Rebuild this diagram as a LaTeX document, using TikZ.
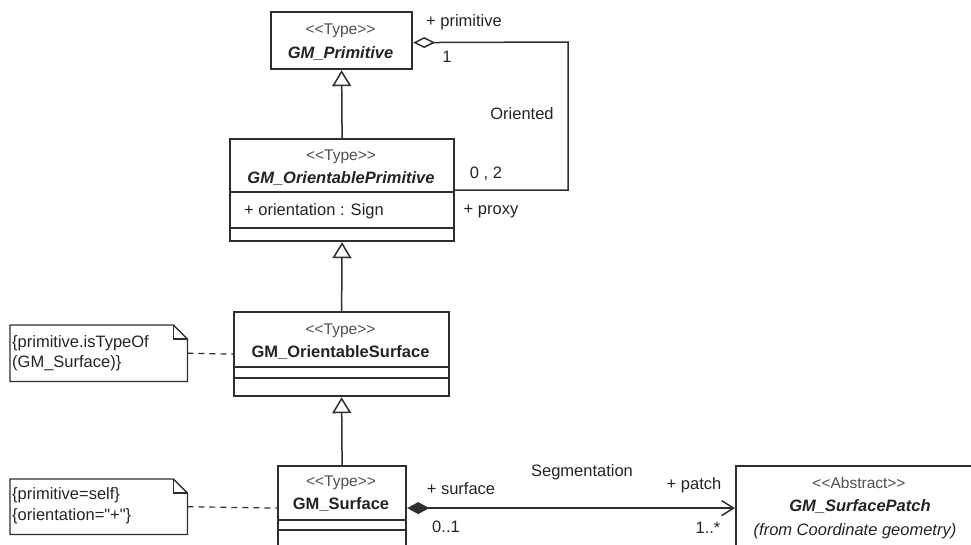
\documentclass[tikz,border=0pt]{standalone}
\usepackage{fontspec}
\setmainfont{Liberation Sans}[Ligatures=TeXOff]
\usetikzlibrary{arrows.meta}
\definecolor{ink}{HTML}{242424}
\definecolor{stroke}{HTML}{2E2E2E}

\begin{document}
\begin{tikzpicture}[x=1pt,y=-1pt,
  txt/.style={font=\fontsize{16.5}{19}\selectfont, text=ink, inner sep=0pt},
  stereo/.style={font=\fontsize{15.5}{18}\selectfont, text=ink!80, inner sep=0pt},
  cname/.style={font=\fontsize{16.5}{19}\selectfont\bfseries, text=ink, inner sep=0pt},
  aname/.style={font=\fontsize{16.5}{19}\selectfont\bfseries\itshape, text=ink, inner sep=0pt},
  classbox/.style={draw=stroke, line width=2.2pt, fill=white, rectangle, anchor=north west, inner sep=0pt},
  notebox/.style={rectangle, anchor=north west, inner sep=0pt},
  notepath/.style={draw=stroke, line width=1.3pt, line join=miter},
  divider/.style={draw=stroke, line width=1.4pt},
  conn/.style={draw=stroke, line width=1.5pt},
  gen/.style={conn, -{Triangle[open, length=16pt, width=19pt, line width=1.5pt]}},
  aggr/.style={conn, {Diamond[open, length=22pt, width=11pt, line width=1.5pt]}-},
  compo/.style={conn, {Diamond[length=22pt, width=12pt]}-{Straight Barb[length=12pt, width=15pt, line width=1.5pt]}},
  anchorline/.style={draw=stroke, line width=1.2pt, dash pattern=on 6pt off 5pt}
]
\useasboundingbox (0,0) rectangle (971,544);
\clip (0,0) rectangle (971,544);

% class boxes
\node[classbox, minimum width=141pt, minimum height=57pt] (prim) at (270,11) {};
\node[classbox, minimum width=224pt, minimum height=102pt] (oprim) at (229,138) {};
\node[classbox, minimum width=215pt, minimum height=84pt] (osurf) at (233,311) {};
\node[classbox, minimum width=128pt, minimum height=84pt] (surf) at (277,465) {};
\node[classbox, minimum width=248pt, minimum height=84pt] (patch) at (735,465) {};

% compartment dividers
\draw[divider] (229,192) -- (453,192);
\draw[divider] (229,228) -- (453,228);
\draw[divider] (233,367) -- (448,367);
\draw[divider] (233,378) -- (448,378);
\draw[divider] (277,520) -- (405,520);
\draw[divider] (277,530) -- (405,530);

% class texts
\node[stereo] (primst) at (340.5,31) {<<Type>>};
\node[aname] (primnm) at (340.5,54) {GM\_Primitive};
\node[stereo] (oprimst) at (341,157) {<<Type>>};
\node[aname] (oprimnm) at (341,179) {GM\_OrientablePrimitive};
\node[txt, anchor=west] (oprimat) at (244,211) {+ orientation : Sign};
\node[stereo] (osurfst) at (340.5,331) {<<Type>>};
\node[cname] (osurfnm) at (340.5,353) {GM\_OrientableSurface};
\node[stereo] (surfst) at (341,483) {<<Type>>};
\node[cname] (surfnm) at (341,505) {GM\_Surface};
\node[stereo] (patchst) at (859,483) {<<Abstract>>};
\node[aname] (patchnm) at (860,507) {GM\_SurfacePatch};
\node[txt, font=\fontsize{16.5}{19}\selectfont\itshape] (patchfr) at (855,531) {(from Coordinate geometry)};

% constraint notes
\node[notebox, minimum width=177pt, minimum height=56pt] (n1) at (10,325) {};
\node[notebox, minimum width=177pt, minimum height=55pt] (n2) at (10,479) {};
\foreach \n in {n1,n2} {
  \draw[notepath] (\n.north west) -- ([xshift=-14pt]\n.north east)
    -- ([yshift=-14pt]\n.north east) -- (\n.south east) -- (\n.south west) -- cycle;
  \draw[notepath] ([xshift=-14pt]\n.north east) |- ([yshift=-14pt]\n.north east);
}
\node[txt, anchor=west] (n1a) at (12,343) {\{primitive.isTypeOf};
\node[txt, anchor=west] (n1b) at (12,363) {(GM\_Surface)\}};
\node[txt, anchor=west] (n2a) at (12,495) {\{primitive=self\}};
\node[txt, anchor=west] (n2b) at (12,516) {\{orientation="+"\}};

% note anchors
\draw[anchorline] (n1.east) -- (osurf.west);
\draw[anchorline] (n2.east) -- (surf.west);

% generalizations
\draw[gen] (oprim.north) -- (prim.south);
\draw[gen] (osurf.north) -- (oprim.south);
\draw[gen] (surf.north) -- (osurf.south);

% Oriented association (aggregation)
\draw[aggr] ([yshift=-2pt]prim.east) -- (568,42) |- (oprim.east);
\node[txt] (lprim) at (464,22) {+ primitive};
\node[txt] (lone) at (447,57) {1};
\node[txt] (lor) at (522,114) {Oriented};
\node[txt] (l02) at (486,174) {0 , 2};
\node[txt] (lproxy) at (491,211) {+ proxy};

% Segmentation association (composition)
\draw[compo] (surf.east) -- (patch.west);
\node[txt] (lsurf) at (461,489) {+ surface};
\node[txt] (l01) at (446,527) {0..1};
\node[txt] (lseg) at (582,472) {Segmentation};
\node[txt] (lpatch) at (694,485) {+ patch};
\node[txt] (l1n) at (708,528) {1..*};
\end{tikzpicture}
\end{document}
